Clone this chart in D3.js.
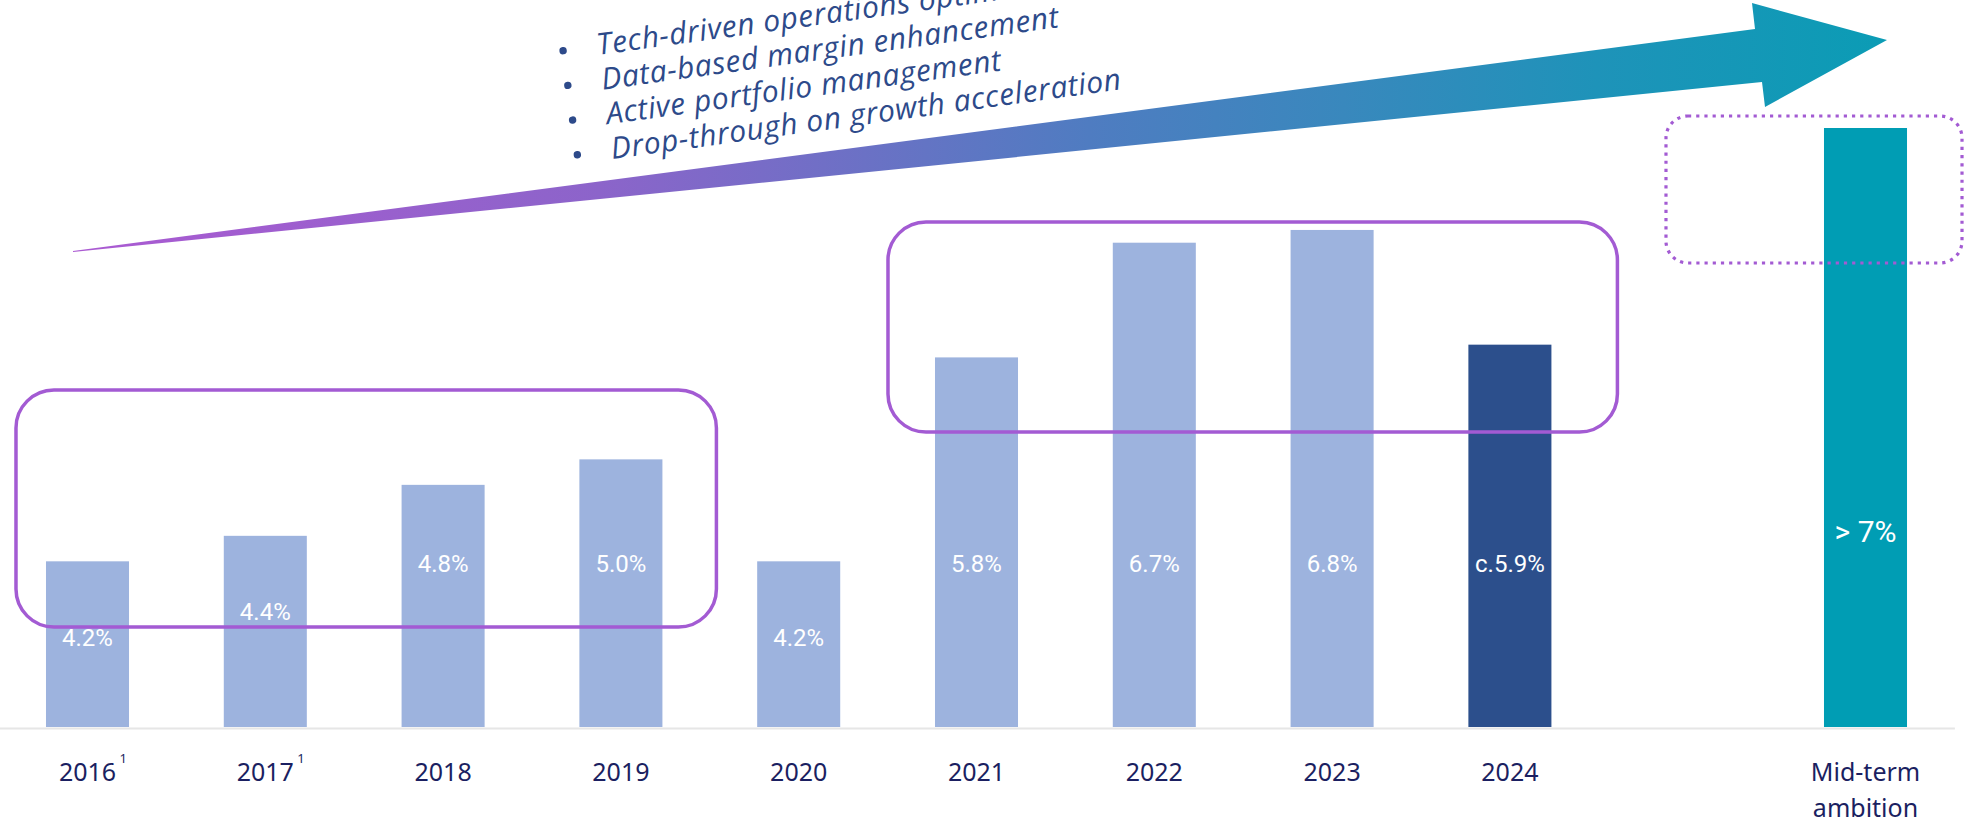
<!DOCTYPE html>
<html>
<head>
<meta charset="utf-8">
<script src="https://cdn.jsdelivr.net/npm/d3@7"></script>
<style>
  html, body { margin: 0; padding: 0; background: #ffffff; }
  svg { display: block; }
</style>
</head>
<body>
<svg id="chart" width="1965" height="824"></svg>
<script>
// ---------------- DATA ----------------
const years = ["2016", "2017", "2018", "2019", "2020", "2021", "2022", "2023", "2024"];
const margins = [4.2, 4.4, 4.8, 5.0, 4.2, 5.8, 6.7, 6.8, 5.9];
const marginLabels = ["4.2%", "4.4%", "4.8%", "5.0%", "4.2%", "5.8%", "6.7%", "6.8%", "c.5.9%"];
const footnotedYears = ["2016", "2017"];
const estimateYear = "2024";
const ambitionCategory = "Mid-term ambition";
const ambitionLines = ["Mid-term", "ambition"];
const ambitionValue = 7.6;
const ambitionLabel = "> 7%";
const gapKey = "__gap";
const bulletPoints = [
  "Tech-driven operations optimization",
  "Data-based margin enhancement",
  "Active portfolio management",
  "Drop-through on growth acceleration"
];
const highlightGroups = [["2016", "2019"], ["2021", "2024"]];

// ---------------- LAYOUT / STYLE ----------------
const W = 1965, H = 824;
const baseY = 727;
const colors = {
  bar: "#9db3de",
  estimate: "#2c4f8c",
  ambition: "#009db4",
  axis: "#e6e6e6",
  year: "#1b1f61",
  bullet: "#2d4a8a",
  box: "#a35bd3"
};

const svg = d3.select("#chart");
svg.append("rect").attr("width", W).attr("height", H).attr("fill", "#fff");

const x = d3.scaleBand()
  .domain([...years, gapKey, ambitionCategory])
  .range([-1.4, 1954.4])
  .paddingInner(0.533)
  .paddingOuter(0.2665);

const y = d3.scaleLinear()
  .domain([2.9, d3.max([...margins, ambitionValue])])
  .range([baseY, 128]);

const bw = x.bandwidth();

const barData = years.map((yr, i) => ({
  cat: yr, value: margins[i], label: marginLabels[i],
  fill: yr === estimateYear ? colors.estimate : colors.bar, big: false
}));
barData.push({ cat: ambitionCategory, value: ambitionValue, label: ambitionLabel, fill: colors.ambition, big: true });

// ---------------- ARROW ----------------
const defs = svg.append("defs");
const grad = defs.append("linearGradient")
  .attr("id", "arrowGrad")
  .attr("gradientUnits", "userSpaceOnUse")
  .attr("x1", 73).attr("y1", 0).attr("x2", 1887).attr("y2", 0);
[[0, "#ab5ad2"], [0.29, "#8c64ca"], [0.56, "#4f7cc1"], [0.7, "#3988bd"], [0.84, "#1e93b9"], [1, "#0b9cb5"]]
  .forEach(([o, c]) => grad.append("stop").attr("offset", o).attr("stop-color", c));

const arrowPts = [[73, 251], [1755, 29], [1752, 3], [1887, 40], [1765, 107], [1762, 82], [73, 252]];
svg.append("path")
  .attr("d", d3.line()(arrowPts) + "Z")
  .attr("fill", "url(#arrowGrad)");

// ---------------- BULLET TEXT ----------------
const bulletG = svg.append("g")
  .attr("transform", "translate(598,55) rotate(-7.8)");
bulletPoints.forEach((t, i) => {
  bulletG.append("circle")
    .attr("cx", -34).attr("cy", i * 35 - 9).attr("r", 3.7)
    .attr("fill", colors.bullet);
  bulletG.append("text")
    .attr("x", 0).attr("y", i * 35)
    .attr("font-family", "'Open Sans', sans-serif")
    .attr("font-style", "italic")
    .attr("font-size", 30)
    .attr("letter-spacing", 0.6)
    .attr("fill", colors.bullet)
    .text(t);
});

// ---------------- BARS ----------------
svg.append("g").selectAll("rect")
  .data(barData)
  .join("rect")
  .attr("x", d => x(d.cat))
  .attr("y", d => y(d.value))
  .attr("width", bw)
  .attr("height", d => baseY - y(d.value))
  .attr("fill", d => d.fill);

svg.append("g").selectAll("text")
  .data(barData)
  .join("text")
  .attr("x", d => x(d.cat) + bw / 2)
  .attr("y", d => d.big ? 531 : Math.max(y(d.value) + 76, baseY - 163))
  .attr("dy", "0.35em")
  .attr("text-anchor", "middle")
  .attr("font-family", "Roboto, sans-serif")
  .attr("font-size", d => d.big ? 30 : 24)
  .attr("fill", "#ffffff")
  .text(d => d.label);

// ---------------- AXIS ----------------
const axis = d3.axisBottom(x).tickSize(0).tickPadding(0)
  .tickFormat(d => d === gapKey ? "" : d);
const axisG = svg.append("g")
  .attr("transform", `translate(0,${baseY + 1})`)
  .call(axis);
axisG.select(".domain").attr("stroke", colors.axis).attr("stroke-width", 2);
axisG.selectAll(".tick text")
  .attr("y", 53)
  .attr("dy", 0)
  .attr("font-family", "'Noto Sans', sans-serif")
  .attr("font-size", 25)
  .attr("fill", colors.year)
  .each(function (d) {
    const t = d3.select(this);
    if (d === ambitionCategory) {
      t.text(null);
      ambitionLines.forEach((ln, i) => {
        t.append("tspan").attr("x", 0).attr("dy", i === 0 ? 0 : 36).text(ln);
      });
    }
    if (footnotedYears.includes(d)) {
      const w = this.getComputedTextLength();
      d3.select(this.parentNode).append("text")
        .attr("x", w / 2 + 7).attr("y", 35)
        .attr("font-family", "'Noto Sans', sans-serif")
        .attr("font-size", 13)
        .attr("fill", colors.year)
        .text("1");
    }
  });

// ---------------- HIGHLIGHT BOXES ----------------
const boxG = svg.append("g").attr("fill", "none");
const box1 = highlightGroups[0], box2 = highlightGroups[1];
boxG.append("rect")
  .attr("x", x(box1[0]) - 30).attr("y", 390)
  .attr("width", x(box1[1]) + bw + 54 - (x(box1[0]) - 30)).attr("height", 237)
  .attr("rx", 38)
  .attr("stroke", colors.box).attr("stroke-width", 3.5);
boxG.append("rect")
  .attr("x", x(box2[0]) - 47).attr("y", 222)
  .attr("width", x(box2[1]) + bw + 66 - (x(box2[0]) - 47)).attr("height", 210)
  .attr("rx", 38)
  .attr("stroke", colors.box).attr("stroke-width", 3.5);
boxG.append("rect")
  .attr("x", x(ambitionCategory) - 158).attr("y", 116)
  .attr("width", bw + 158 + 55).attr("height", 147)
  .attr("rx", 22)
  .attr("stroke", colors.box).attr("stroke-width", 3.2)
  .attr("stroke-dasharray", "3.2 5");
</script>
</body>
</html>
